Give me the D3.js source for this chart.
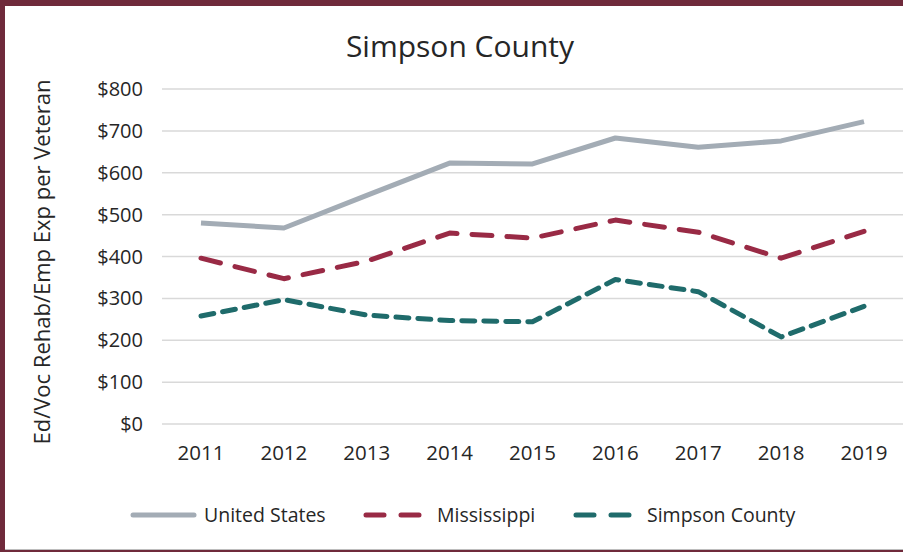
<!DOCTYPE html>
<html lang="en">
<head>
<meta charset="UTF-8">
<title>Simpson County</title>
<script src="https://d3js.org/d3.v7.min.js"></script>
<style>
    body { margin: 0; background: #6f2a3b; }
    svg { display: block; }
    text { font-family: "Open Sans", Lato, sans-serif; fill: #262626; }
</style>
</head>
<body>
<svg width="903" height="552"></svg>
<script>
    // data
    const years = ["2011", "2012", "2013", "2014", "2015", "2016", "2017", "2018", "2019"];
    const unitedStates = [480, 468, 546, 623, 621, 683, 661, 676, 722];
    const mississippi = [396, 347, 389, 456, 444, 487, 458, 396, 460];
    const simpsonCounty = [258, 297, 260, 247, 244, 345, 316, 208, 281];
    const yTicks = [0, 100, 200, 300, 400, 500, 600, 700, 800];

    const svg = d3.select("svg");

    // frame: maroon border top/left, white panel
    svg.append("rect").attr("x", 0).attr("y", 0).attr("width", 903).attr("height", 552).attr("fill", "#6f2a3b");
    svg.append("rect").attr("x", 5).attr("y", 6).attr("width", 898).attr("height", 543).attr("fill", "#ffffff");
    svg.append("line").attr("x1", 5).attr("x2", 903).attr("y1", 549.5).attr("y2", 549.5)
        .attr("stroke", "#bdbdbd").attr("stroke-width", 1);

    const x = d3.scalePoint().domain(years).range([201, 864]).padding(0);
    const y = d3.scaleLinear().domain([0, 800]).range([424, 89]);

    // gridlines
    svg.append("g").selectAll("line")
        .data(yTicks)
        .join("line")
        .attr("x1", 162).attr("x2", 903)
        .attr("y1", d => y(d)).attr("y2", d => y(d))
        .attr("stroke", "#d9d9d9").attr("stroke-width", 1.5);

    // y tick labels
    svg.append("g").selectAll("text")
        .data(yTicks)
        .join("text")
        .attr("x", 143).attr("y", d => y(d))
        .attr("dy", "0.35em")
        .attr("text-anchor", "end")
        .attr("font-size", "20px")
        .text(d => "$" + d);

    // x tick labels
    svg.append("g").selectAll("text")
        .data(years)
        .join("text")
        .attr("x", d => x(d)).attr("y", 460)
        .attr("text-anchor", "middle")
        .attr("font-size", "20.5px")
        .text(d => d);

    // title
    svg.append("text")
        .attr("x", 460).attr("y", 57)
        .attr("text-anchor", "middle")
        .attr("font-size", "30px")
        .text("Simpson County");

    // y axis title
    svg.append("text")
        .attr("transform", "translate(50,262) rotate(-90)")
        .attr("text-anchor", "middle")
        .attr("font-size", "22px")
        .text("Ed/Voc Rehab/Emp Exp per Veteran");

    const series = [
        { name: "United States", values: unitedStates, color: "#a3acb5", dash: null, lx: 130 },
        { name: "Mississippi", values: mississippi, color: "#992a45", dash: "20,15", lx: 363 },
        { name: "Simpson County", values: simpsonCounty, color: "#1f6b6b", dash: "13,9", lx: 573 }
    ];

    const line = d3.line()
        .x((d, i) => x(years[i]))
        .y(d => y(d));

    svg.append("g").selectAll("path")
        .data(series)
        .join("path")
        .attr("d", d => line(d.values))
        .attr("fill", "none")
        .attr("stroke", d => d.color)
        .attr("stroke-width", 5)
        .attr("stroke-linejoin", "round")
        .attr("stroke-linecap", d => d.dash ? "round" : "butt")
        .attr("stroke-dasharray", d => d.dash);

    // legend
    const legend = svg.append("g").selectAll("g")
        .data(series)
        .join("g")
        .attr("transform", d => `translate(${d.lx},515)`);

    legend.append("line")
        .attr("x1", 3).attr("x2", 64)
        .attr("y1", 0).attr("y2", 0)
        .attr("stroke", d => d.color)
        .attr("stroke-width", 5)
        .attr("stroke-linecap", "round")
        .attr("stroke-dasharray", d => d.dash ? "18,17" : null);

    legend.append("text")
        .attr("x", 74).attr("y", 0)
        .attr("dy", "0.35em")
        .attr("font-size", "19.5px")
        .text(d => d.name);
</script>
</body>
</html>
